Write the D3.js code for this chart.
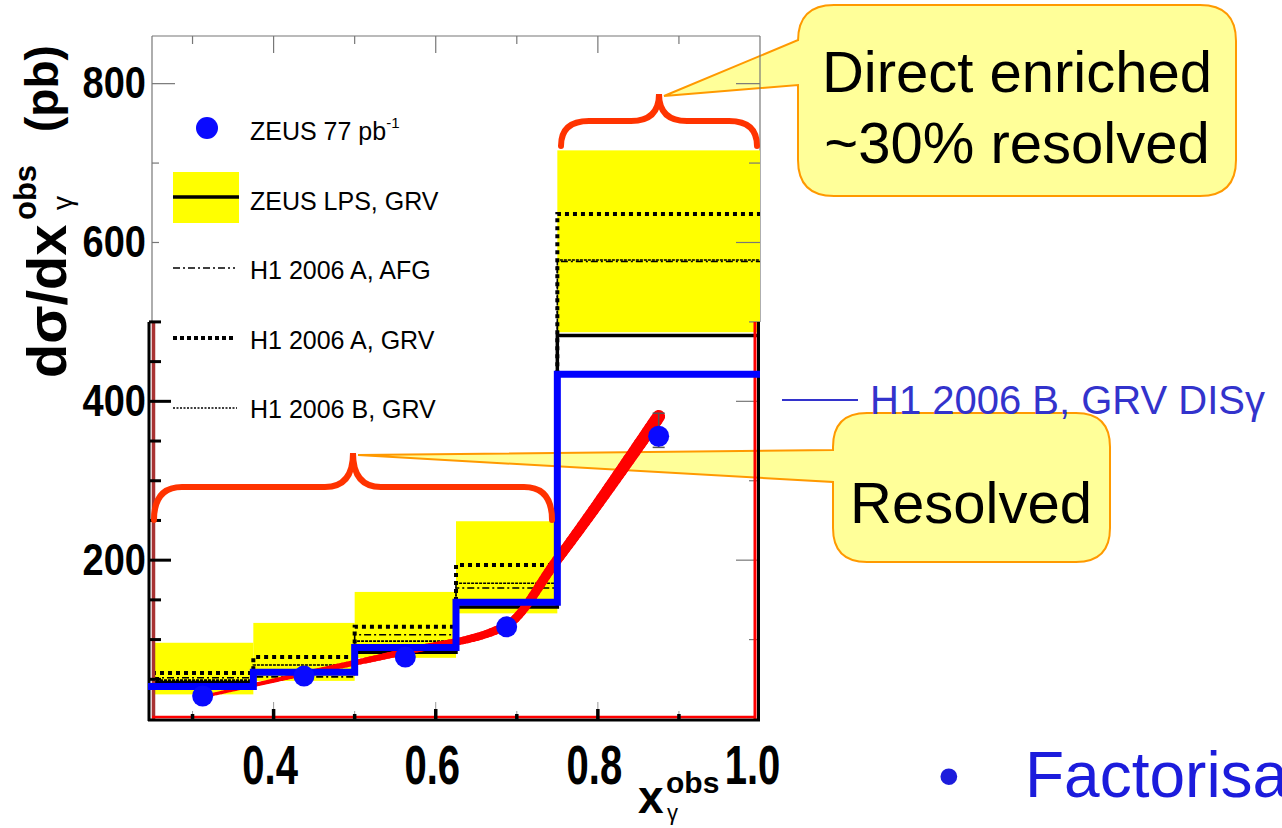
<!DOCTYPE html>
<html>
<head>
<meta charset="utf-8">
<script src="https://cdn.jsdelivr.net/npm/d3@7"></script>
<style>
  body { margin: 0; background: #fff; }
  svg { display: block; font-family: "Liberation Sans", Arial, sans-serif; }
</style>
</head>
<body>
<script>
// bins in x_gamma^obs
var binEdges = [0.25, 0.375, 0.5, 0.625, 0.75, 1.0];

// ZEUS 77 pb-1 data
var zeusX = [0.3125, 0.4375, 0.5625, 0.6875, 0.875];
var zeusY = [29, 54, 78, 116, 356];
var zeusErrUp = [4, 5, 6, 8, 29];
var zeusErrDown = [4, 5, 6, 8, 14];

// predictions per bin
var bandLow = [31, 48, 77, 133, 487];
var bandHigh = [96, 121, 160, 249, 716];
var lpsGrv = [46, 60, 84, 141, 483];
var h1aAfg = [52, 53, 106, 165, 576];
var h1aGrv = [58, 78, 116, 194, 636];
var h1bGrv = [49, 68, 98, 171, 578];
var h1bDis = [41, 59, 90, 147, 434];

// hand drawn red trend through the points
var redX = [0.3125, 0.4375, 0.5625, 0.6875, 0.748, 0.875];
var redY = [28, 57, 85, 118, 198, 381];

var xLabels = [0.4, 0.6, 0.8, 1.0];
var yLabels = [200, 400, 600, 800];
var legendNames = ["ZEUS 77 pb", "ZEUS LPS, GRV", "H1 2006 A, AFG", "H1 2006 A, GRV", "H1 2006 B, GRV"];

var W = 1282, H = 828;
var svg = d3.select("body").append("svg").attr("width", W).attr("height", H);

var x = d3.scaleLinear().domain([0.25, 1.0]).range([152, 760]);
var y = d3.scaleLinear().domain([0, 860]).range([719, 36]);

// ---------- callouts (under the plot) ----------
function callout(x0, y0, x1, y1, r, a0, a1, tip) {
    return "M" + (x0 + r) + "," + y0 + " H" + (x1 - r) + " Q" + x1 + "," + y0 + " " + x1 + "," + (y0 + r) +
        " V" + (y1 - r) + " Q" + x1 + "," + y1 + " " + (x1 - r) + "," + y1 +
        " H" + (x0 + r) + " Q" + x0 + "," + y1 + " " + x0 + "," + (y1 - r) +
        " V" + a1 + " L" + tip[0] + "," + tip[1] + " L" + x0 + "," + a0 +
        " V" + (y0 + r) + " Q" + x0 + "," + y0 + " " + (x0 + r) + "," + y0 + " Z";
}
svg.append("path")
    .attr("d", callout(798, 5, 1236, 196, 36, 40, 85, [664, 96]))
    .attr("fill", "#ffff99").attr("stroke", "#ff9900").attr("stroke-width", 2);
svg.append("path")
    .attr("d", callout(833, 413, 1110, 562, 34, 450, 482, [358, 455]))
    .attr("fill", "#ffff99").attr("stroke", "#ff9900").attr("stroke-width", 2);

svg.append("text").attr("x", 1017).attr("y", 92).attr("text-anchor", "middle")
    .style("font-size", "58px").text("Direct enriched");
svg.append("text").attr("x", 1017).attr("y", 163).attr("text-anchor", "middle")
    .style("font-size", "58px").text("~30% resolved");
svg.append("text").attr("x", 971).attr("y", 523).attr("text-anchor", "middle")
    .style("font-size", "58px").text("Resolved");

// ---------- frame (original plot, grey) ----------
var frame = svg.append("g").attr("stroke", "#777").attr("stroke-width", 1.2).attr("fill", "none");
frame.append("line").attr("x1", x(0.25)).attr("x2", x(1.0)).attr("y1", y(860)).attr("y2", y(860));
frame.append("line").attr("x1", x(0.25)).attr("x2", x(0.25)).attr("y1", y(860)).attr("y2", y(500));
frame.append("line").attr("x1", x(1.0)).attr("x2", x(1.0)).attr("y1", y(860)).attr("y2", y(500));

// yellow bands
svg.append("g").selectAll("rect").data(bandLow).join("rect")
    .attr("x", function (d, i) { return x(binEdges[i]) + (i === 0 ? 3 : 0); })
    .attr("width", function (d, i) { return x(binEdges[i + 1]) - x(binEdges[i]) - (i === 0 ? 3 : 0); })
    .attr("y", function (d, i) { return y(bandHigh[i]); })
    .attr("height", function (d, i) { return y(d) - y(bandHigh[i]); })
    .attr("fill", "#ffff00");

// grey ticks of the original frame
function ticks(vals, fn, color, width) {
    svg.append("g").selectAll("line").data(vals).join("line")
        .each(function (d) {
            var t = fn(d);
            d3.select(this).attr("x1", t[0]).attr("y1", t[1]).attr("x2", t[2]).attr("y2", t[3]);
        })
        .attr("stroke", color).attr("stroke-width", width);
}
ticks([100, 200, 300, 400, 500, 600, 700, 800], function (v) {
    var len = v % 200 === 0 ? 24 : 11;
    return [x(1.0), y(v), x(1.0) - len, y(v)];
}, "#777", 1.2);
ticks([600, 700, 800], function (v) {
    var len = v === 800 ? 23 : 7;
    return [x(0.25), y(v), x(0.25) + len, y(v)];
}, "#777", 1.2);
ticks([0.3, 0.4, 0.5, 0.6, 0.7, 0.8, 0.9], function (v) {
    var len = Math.round(v * 10) % 2 === 0 ? 17 : 8;
    return [x(v), y(860), x(v), y(860) + len];
}, "#777", 1.2);
ticks([0.3, 0.4, 0.5, 0.6, 0.7, 0.8, 0.9], function (v) {
    var len = Math.round(v * 10) % 2 === 0 ? 17 : 8;
    return [x(v), y(0), x(v), y(0) - len];
}, "#999", 1);

// step lines
function stepPath(vals) {
    var pts = [];
    vals.forEach(function (v, i) {
        pts.push([x(binEdges[i]), y(v)], [x(binEdges[i + 1]), y(v)]);
    });
    return d3.line()(pts);
}
svg.append("path").attr("d", stepPath(h1bGrv)).attr("fill", "none")
    .attr("stroke", "#000").attr("stroke-width", 1.6).attr("stroke-dasharray", "3,1");
svg.append("path").attr("d", stepPath(h1aAfg)).attr("fill", "none")
    .attr("stroke", "#000").attr("stroke-width", 1.6).attr("stroke-dasharray", "7,3,2,3");
svg.append("path").attr("d", stepPath(h1aGrv)).attr("fill", "none")
    .attr("stroke", "#000").attr("stroke-width", 4).attr("stroke-dasharray", "4,4");
svg.append("path").attr("d", stepPath(lpsGrv)).attr("fill", "none")
    .attr("stroke", "#000").attr("stroke-width", 3.5);

// red trend, getting thicker toward high x
var redLine = d3.line().curve(d3.curveMonotoneX)(redX.map(function (v, i) { return [x(v), y(redY[i])]; }));
var guide = svg.append("path").attr("d", redLine).attr("fill", "none").attr("stroke", "none");
var glen = guide.node().getTotalLength();
var segs = d3.range(0, 120);
svg.append("g").selectAll("line").data(segs).join("line")
    .each(function (k) {
        var p0 = guide.node().getPointAtLength(glen * k / segs.length);
        var p1 = guide.node().getPointAtLength(glen * (k + 1) / segs.length);
        d3.select(this).attr("x1", p0.x).attr("y1", p0.y).attr("x2", p1.x).attr("y2", p1.y)
            .attr("stroke-width", 3 + 10 * k / segs.length);
    })
    .attr("stroke", "#ff0000").attr("stroke-linecap", "round");

// red box of the slide
var box = svg.append("g").attr("fill", "none");
box.append("line").attr("x1", x(0.25) - 3).attr("x2", x(0.25) - 3).attr("y1", y(500)).attr("y2", y(0) + 2)
    .attr("stroke", "#000").attr("stroke-width", 3);
box.append("line").attr("x1", x(0.25) + 1.5).attr("x2", x(0.25) + 1.5).attr("y1", y(500)).attr("y2", y(0))
    .attr("stroke", "#a83232").attr("stroke-width", 3.5);
box.append("line").attr("x1", x(1.0) - 1.5).attr("x2", x(1.0) - 1.5).attr("y1", y(500)).attr("y2", y(0) + 2)
    .attr("stroke", "#000").attr("stroke-width", 3);
box.append("line").attr("x1", x(1.0) - 5).attr("x2", x(1.0) - 5).attr("y1", y(500)).attr("y2", y(0))
    .attr("stroke", "#ff0000").attr("stroke-width", 3);
box.append("line").attr("x1", x(0.25) - 4).attr("x2", x(1.0)).attr("y1", y(0) + 1).attr("y2", y(0) + 1)
    .attr("stroke", "#000").attr("stroke-width", 3);
box.append("line").attr("x1", x(0.25)).attr("x2", x(1.0) - 4).attr("y1", y(0) - 2).attr("y2", y(0) - 2)
    .attr("stroke", "#ff0000").attr("stroke-width", 2.5);

// black inner ticks
ticks(d3.range(50, 501, 50), function (v) {
    var len = v % 200 === 0 ? 22 : 12;
    return [x(0.25) - 3, y(v), x(0.25) - 3 + len, y(v)];
}, "#000", 3);
ticks([0.3, 0.4, 0.5, 0.6, 0.7, 0.8, 0.9], function (v) {
    var len = Math.round(v * 10) % 2 === 0 ? 10 : 5;
    return [x(v), y(0), x(v), y(0) - len];
}, "#000", 3.5);

// H1 2006 B, GRV DISgamma (blue)
svg.append("path").attr("d", stepPath(h1bDis).replace(/^M[\d.]+/, "M" + (x(0.25) - 4)))
    .attr("fill", "none").attr("stroke", "#0000ff").attr("stroke-width", 7);

// ZEUS points
var errX = x(zeusX[4]);
svg.append("line").attr("x1", errX).attr("x2", errX)
    .attr("y1", y(zeusY[4] + zeusErrUp[4])).attr("y2", y(zeusY[4] - zeusErrDown[4]))
    .attr("stroke", "#555").attr("stroke-width", 1.5);
[zeusY[4] + zeusErrUp[4], zeusY[4] - zeusErrDown[4]].forEach(function (v) {
    svg.append("line").attr("x1", errX - 6).attr("x2", errX + 6).attr("y1", y(v)).attr("y2", y(v))
        .attr("stroke", "#555").attr("stroke-width", 1.5);
});
svg.append("g").selectAll("circle").data(zeusY).join("circle")
    .attr("cx", function (d, i) { return x(zeusX[i]); })
    .attr("cy", function (d) { return y(d); })
    .attr("r", 10.5).attr("fill", "#0a0aff");

// braces
function brace(xa, xb, yEnd, yH, yTip) {
    var xm = (xa + xb) / 2, r = 28;
    return "M" + xa + "," + yEnd + " Q" + xa + "," + yH + " " + (xa + r) + "," + yH +
        " H" + (xm - r) + " Q" + xm + "," + yH + " " + xm + "," + yTip +
        " Q" + xm + "," + yH + " " + (xm + r) + "," + yH +
        " H" + (xb - r) + " Q" + xb + "," + yH + " " + xb + "," + yEnd;
}
svg.append("path").attr("d", brace(154, 552, 520, 487, 453))
    .attr("fill", "none").attr("stroke", "#ff3300").attr("stroke-width", 6).attr("stroke-linecap", "round");
svg.append("path").attr("d", brace(561, 757, 146, 121, 94))
    .attr("fill", "none").attr("stroke", "#ff3300").attr("stroke-width", 6).attr("stroke-linecap", "round");

// ---------- axis labels ----------
var yAxis = svg.append("g").attr("transform", "translate(" + x(0.25) + ",0)")
    .call(d3.axisLeft(y).tickValues(yLabels).tickSize(0).tickPadding(6));
yAxis.select(".domain").remove();
yAxis.selectAll("text").attr("transform", "scale(1,1.15)")
    .style("font-size", "38px").style("font-weight", "bold").style("font-family", "'Liberation Sans', Arial");

var xAxis = svg.append("g").attr("transform", "translate(0," + y(0) + ")")
    .call(d3.axisBottom(x).tickValues(xLabels).tickSize(0).tickPadding(18).tickFormat(d3.format(".1f")));
xAxis.select(".domain").remove();
xAxis.selectAll("text").attr("transform", "scale(1,1.4)")
    .attr("dx", function (d) { return d === 1.0 ? -8 : -4; })
    .style("font-size", "40px").style("font-weight", "bold").style("font-family", "'Liberation Sans', Arial");

// axis titles
svg.append("text").attr("transform", "translate(66,378) rotate(-90)")
    .style("font-size", "56px").style("font-weight", "bold").text("d\u03c3/dx");
svg.append("text").attr("transform", "translate(72,210) rotate(-90)")
    .style("font-size", "28px").text("\u03b3");
svg.append("text").attr("transform", "translate(36,220) rotate(-90)")
    .style("font-size", "31px").style("font-weight", "bold").text("obs");
svg.append("text").attr("transform", "translate(58,132) rotate(-90)")
    .style("font-size", "46px").style("font-weight", "bold").text("(pb)");

svg.append("text").attr("x", 638).attr("y", 813)
    .style("font-size", "46px").style("font-weight", "bold").text("x");
svg.append("text").attr("x", 666).attr("y", 793)
    .style("font-size", "30px").style("font-weight", "bold").text("obs");
svg.append("text").attr("x", 667).attr("y", 820)
    .style("font-size", "22px").text("\u03b3");

// ---------- legend ----------
var lg = svg.append("g").style("font-size", "25px");
lg.append("circle").attr("cx", 207).attr("cy", 128).attr("r", 11).attr("fill", "#0a0aff");
var t0 = lg.append("text").attr("x", 250).attr("y", 140).text(legendNames[0]);
t0.append("tspan").attr("dy", -12).style("font-size", "15px").text("-1");
lg.append("rect").attr("x", 173).attr("y", 172).attr("width", 66).attr("height", 51).attr("fill", "#ffff00");
lg.append("line").attr("x1", 173).attr("x2", 239).attr("y1", 197).attr("y2", 197)
    .attr("stroke", "#000").attr("stroke-width", 3.5);
lg.append("text").attr("x", 250).attr("y", 210).text(legendNames[1]);
lg.append("line").attr("x1", 173).attr("x2", 235).attr("y1", 268).attr("y2", 268)
    .attr("stroke", "#000").attr("stroke-width", 1.3).attr("stroke-dasharray", "7,3,2,3");
lg.append("text").attr("x", 250).attr("y", 279).text(legendNames[2]);
lg.append("line").attr("x1", 173).attr("x2", 236).attr("y1", 338).attr("y2", 338)
    .attr("stroke", "#000").attr("stroke-width", 4).attr("stroke-dasharray", "4,3");
lg.append("text").attr("x", 250).attr("y", 349).text(legendNames[3]);
lg.append("line").attr("x1", 173).attr("x2", 237).attr("y1", 408).attr("y2", 408)
    .attr("stroke", "#000").attr("stroke-width", 1.3).attr("stroke-dasharray", "2,1.5");
lg.append("text").attr("x", 250).attr("y", 418).text(legendNames[4]);

// slide legend for the blue line
svg.append("line").attr("x1", 782).attr("x2", 858).attr("y1", 400).attr("y2", 400)
    .attr("stroke", "#3333cc").attr("stroke-width", 2);
svg.append("text").attr("x", 870).attr("y", 414).attr("fill", "#3333cc")
    .style("font-size", "40px").text("H1 2006 B, GRV DIS\u03b3");

// bullet at the bottom right of the slide
svg.append("text").attr("x", 938).attr("y", 797).attr("fill", "#1c1cdc")
    .style("font-size", "62px").text("\u2022");
svg.append("text").attr("x", 1025).attr("y", 797).attr("fill", "#1c1cdc")
    .style("font-size", "64px").text("Factorisa");
</script>
</body>
</html>
